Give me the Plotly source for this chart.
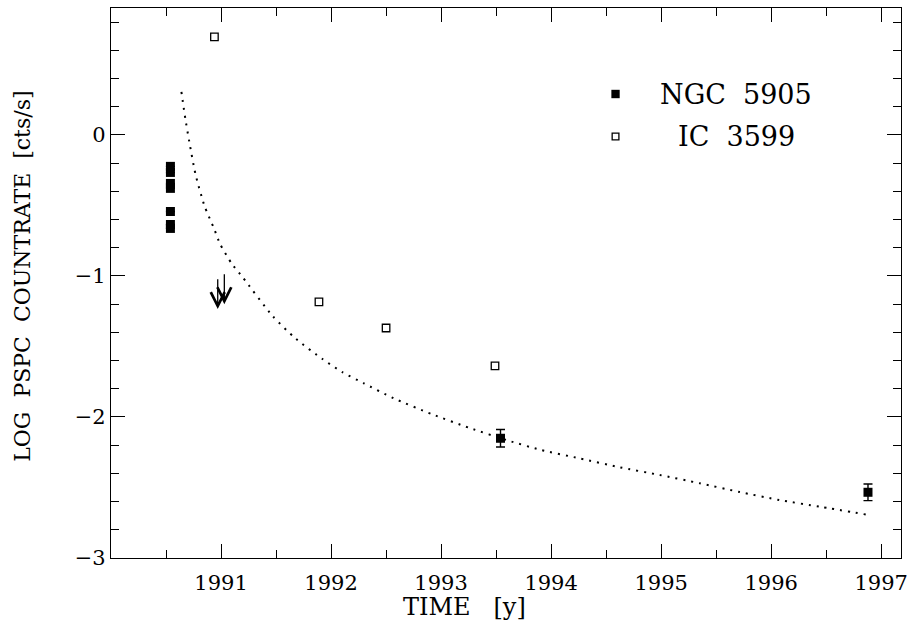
import plotly.graph_objects as go

# ---------------- data ----------------
ngc_time = [1990.54, 1990.54, 1990.54, 1990.54, 1990.54, 1990.54, 1990.54, 1993.54, 1996.88]
ngc_lograte = [-0.223, -0.266, -0.344, -0.379, -0.543, -0.635, -0.663, -2.151, -2.534]
ngc_err = [None, None, None, None, None, None, None, 0.062, 0.059]

ic_time = [1990.94, 1991.89, 1992.50, 1993.49]
ic_lograte = [0.695, -1.184, -1.369, -1.638]

ul_time = [1990.97, 1991.03]          # upper limits (arrows)
ul_lograte = [-1.02, -0.985]

curve_time = [1990.640, 1990.676, 1990.712, 1990.768, 1990.850, 1990.937, 1990.991,
              1991.099, 1991.196, 1991.471, 1991.682, 1991.922, 1992.102, 1992.297,
              1992.568, 1992.913, 1993.259, 1993.613, 1993.898, 1994.261, 1994.624,
              1994.985, 1995.351, 1995.714, 1996.075, 1996.441, 1996.886]
curve_lograte = [0.305, 0.113, -0.050, -0.279, -0.504, -0.665, -0.773,
                 -0.915, -1.009, -1.286, -1.447, -1.589, -1.682, -1.761,
                 -1.867, -1.979, -2.078, -2.168, -2.232, -2.294, -2.357,
                 -2.411, -2.470, -2.532, -2.589, -2.636, -2.695]

x_tickvals = [1991, 1992, 1993, 1994, 1995, 1996, 1997]
x_ticktext = ["1991", "1992", "1993", "1994", "1995", "1996", "1997"]
y_tickvals = [0, -1, -2, -3]
y_ticktext = ["0", "\u22121", "\u22122", "\u22123"]

legend_names = ["NGC\u00a0\u00a05905", "IC\u00a0\u00a03599"]

FONT = "DejaVu Serif"

fig = go.Figure()

fig.add_trace(go.Scatter(
    x=curve_time, y=curve_lograte, mode="lines",
    line=dict(color="black", width=2, dash="2px,6px", shape="spline", smoothing=0.6),
    hoverinfo="skip", showlegend=False))

fig.add_trace(go.Scatter(
    x=ngc_time, y=ngc_lograte, mode="markers",
    marker=dict(symbol="square", size=9, color="black", line=dict(width=0)),
    error_y=dict(type="data", array=ngc_err, color="black", thickness=1.4, width=4.5),
    name=legend_names[0], showlegend=False))

fig.add_trace(go.Scatter(
    x=ic_time, y=ic_lograte, mode="markers",
    marker=dict(symbol="square-open", size=7.5, color="black", line=dict(width=1.3)),
    name=legend_names[1], showlegend=False))

ARROW_LEN = 0.215
for t, v in zip(ul_time, ul_lograte):
    fig.add_annotation(x=t, y=v - ARROW_LEN, ax=t, ay=v, xref="x", yref="y",
                       axref="x", ayref="y", text="", showarrow=True,
                       font=dict(size=1), borderpad=0,
                       arrowhead=5, arrowsize=2.1, arrowwidth=1.3, arrowcolor="black",
                       standoff=0, startstandoff=0)

# ---------------- legend (keys + labels) ----------------
W, H = 915, 632
ML, MR, MT, MB = 111, 7, 8, 74
PW, PH = W - ML - MR, H - MT - MB


def px_to_paper(px, py):
    return (px - ML) / PW, (H - MB - py) / PH


leg_rows = [94, 136.5]
leg_key_x = 620
leg_text_x = 742
leg_styles = [dict(fill="black", lw=0, half=4.2), dict(fill="white", lw=1.3, half=3.4)]
for name, py, st in zip(legend_names, leg_rows, leg_styles):
    cx, cy = px_to_paper(leg_key_x, py)
    fig.add_shape(type="rect", xref="paper", yref="paper",
                  x0=cx - st["half"] / PW, x1=cx + st["half"] / PW,
                  y0=cy - st["half"] / PH, y1=cy + st["half"] / PH,
                  fillcolor=st["fill"], line=dict(color="black", width=st["lw"]))
    tx, ty = px_to_paper(leg_text_x, py)
    fig.add_annotation(x=tx, y=ty, xref="paper", yref="paper", text=name,
                       showarrow=False, xanchor="center", yanchor="middle",
                       font=dict(family=FONT, size=27, color="black"))

# ---------------- axis titles ----------------
tx, ty = px_to_paper(468, 607)
fig.add_annotation(x=tx, y=ty, xref="paper", yref="paper", text="TIME\u00a0\u00a0\u00a0[y]",
                   showarrow=False, xanchor="center", yanchor="middle",
                   font=dict(family=FONT, size=24, color="black"))
tx, ty = px_to_paper(21, 276)
fig.add_annotation(x=tx, y=ty, xref="paper", yref="paper",
                   text="LOG\u00a0\u00a0PSPC\u00a0\u00a0COUNTRATE\u00a0\u00a0[cts/s]",
                   textangle=-90, showarrow=False, xanchor="center", yanchor="middle",
                   font=dict(family=FONT, size=22, color="black"))

axis_common = dict(showline=True, linecolor="black", linewidth=1.3, mirror="ticks",
                   ticks="inside", ticklen=14, tickwidth=1.2, tickcolor="black",
                   showgrid=False, zeroline=False)

fig.update_xaxes(range=[1990, 1997.18], tickmode="array", tickvals=x_tickvals,
                 ticktext=x_ticktext, ticklabelstandoff=6,
                 tickfont=dict(family=FONT, size=21, color="black"),
                 minor=dict(ticks="inside", ticklen=8, tickwidth=1.2, tickcolor="black",
                            tickmode="array",
                            tickvals=[1990.5, 1991.5, 1992.5, 1993.5, 1994.5, 1995.5, 1996.5]),
                 **axis_common)
fig.update_yaxes(range=[-3, 0.9], tickmode="array", tickvals=y_tickvals,
                 ticktext=y_ticktext, ticklabelstandoff=0,
                 tickfont=dict(family=FONT, size=21, color="black"),
                 minor=dict(ticks="inside", ticklen=8, tickwidth=1.2, tickcolor="black",
                            dtick=0.2, tick0=0),
                 **axis_common)

fig.update_layout(width=W, height=H, margin=dict(l=ML, r=MR, t=MT, b=MB),
                  plot_bgcolor="white", paper_bgcolor="white", showlegend=False)

fig.write_html("out.html")
